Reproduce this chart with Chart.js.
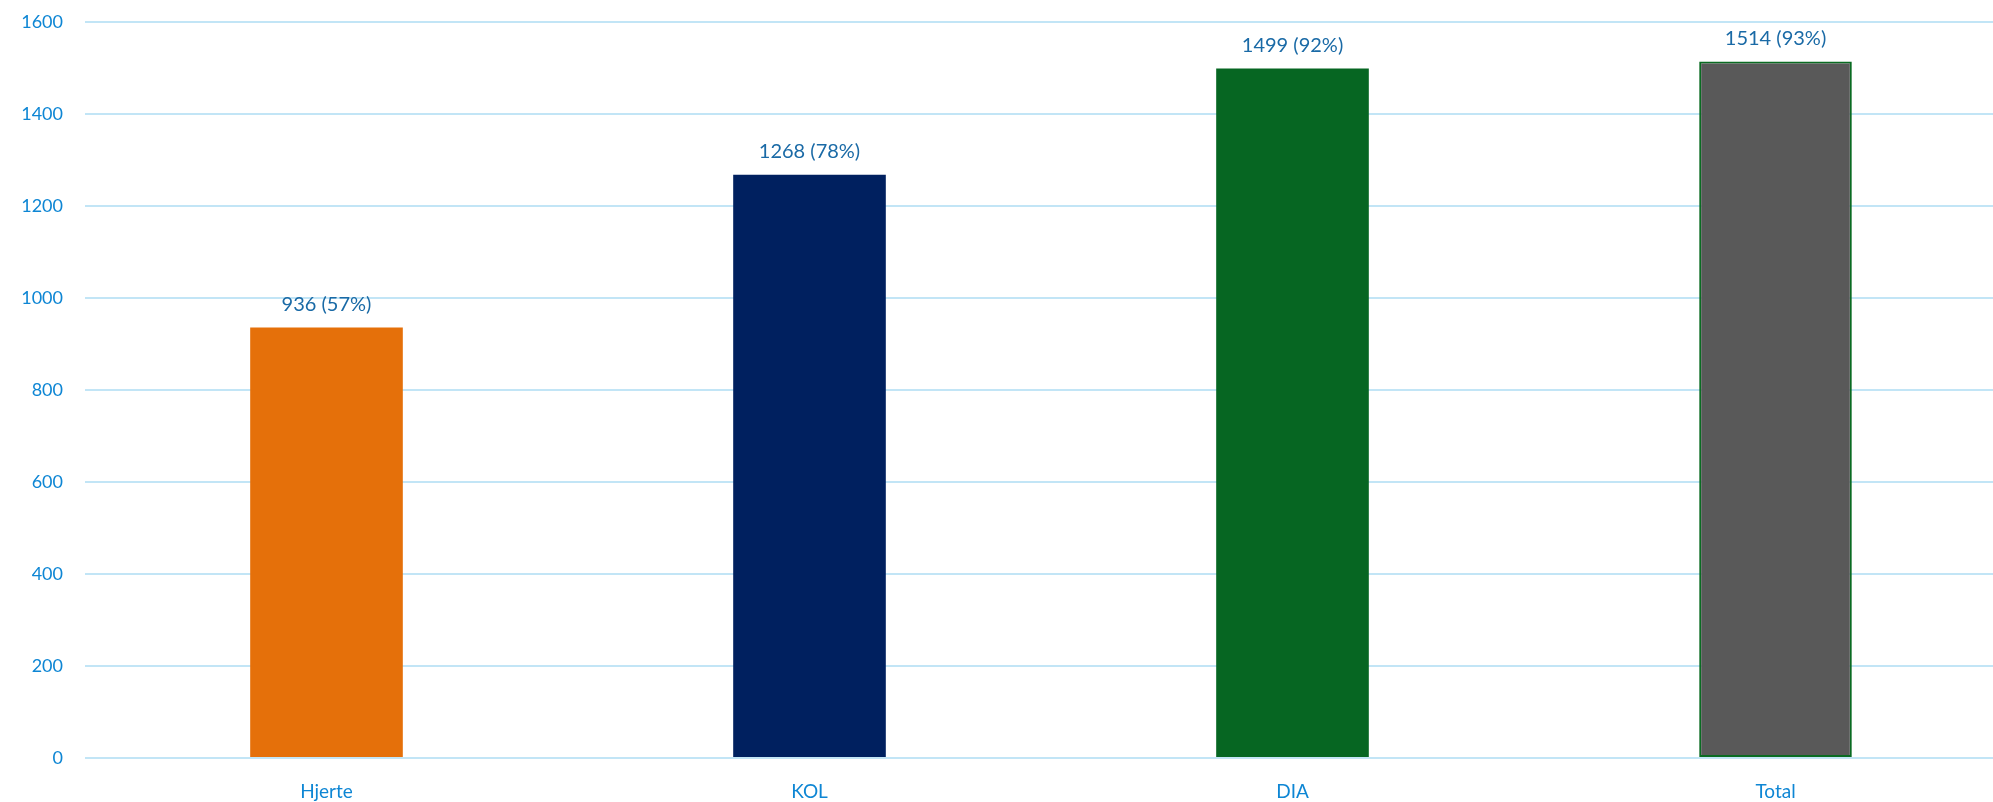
<!DOCTYPE html>
<html><head><meta charset="utf-8">
<script src="https://cdn.jsdelivr.net/npm/chart.js@4/dist/chart.umd.min.js"></script>
<style>html,body{margin:0;padding:0;background:#fff;overflow:hidden}#wrap{width:1993px;height:802px;overflow:hidden}</style>
</head><body><div id="wrap"><canvas id="c" width="2017" height="802"></canvas></div>
<script>
const categories = ["Hjerte", "KOL", "DIA", "Total"];
const values = [936, 1268, 1499, 1514];
const percents = ["57%", "78%", "92%", "93%"];
const yTicks = [0, 200, 400, 600, 800, 1000, 1200, 1400, 1600];
const fills = ["#e5700a", "#00205f", "#066622", "#595959"];
const borders = ["#e5700a", "#00205f", "#066622", "#0a6b22"];

const labelPlugin = {
  id: 'vals',
  afterDatasetsDraw(chart) {
    const ctx = chart.ctx;
    const meta = chart.getDatasetMeta(0);
    ctx.save();
    ctx.font = '20px Lato';
    ctx.fillStyle = '#1a6aa6';
    ctx.textAlign = 'center';
    ctx.textBaseline = 'middle';
    meta.data.forEach((bar, i) => {
      ctx.fillText(values[i] + ' (' + percents[i] + ')', bar.x, bar.y - 23);
    });
    ctx.restore();
  }
};

new Chart(document.getElementById('c'), {
  type: 'bar',
  data: {
    labels: categories,
    datasets: [{
      data: values,
      backgroundColor: fills,
      borderColor: borders,
      borderWidth: [0, 0, 0, 2],
      borderSkipped: false,
      barPercentage: 0.316,
      categoryPercentage: 1
    }]
  },
  plugins: [labelPlugin],
  options: {
    responsive: false,
    animation: false,
    layout: { padding: { top: 22, right: 0, left: 0, bottom: 0 } },
    plugins: { legend: { display: false }, tooltip: { enabled: false } },
    scales: {
      x: {
        grid: { display: false },
        border: { display: false },
        ticks: { color: '#0e86d4', font: { family: 'Lato', size: 19 }, padding: 14 },
        afterFit: s => { s.height = 44; s.paddingLeft = 0; s.paddingRight = 0; }
      },
      y: {
        min: 0, max: 1600,
        afterBuildTicks: s => { s.ticks = yTicks.map(v => ({ value: v })); },
        grid: { color: '#c2e5f6', lineWidth: 2, drawTicks: false },
        border: { display: false },
        ticks: { color: '#0e86d4', font: { family: 'Lato', size: 18 }, padding: 22,
                 callback: v => String(v) },
        afterFit: s => { s.width = 85; s.paddingTop = 0; s.paddingBottom = 0; }
      }
    }
  }
});
</script></body></html>
